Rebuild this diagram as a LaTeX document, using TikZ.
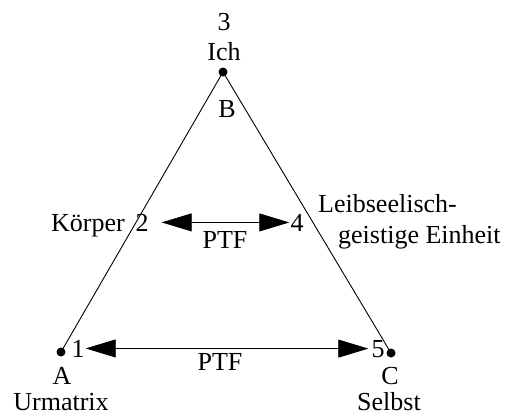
\documentclass[tikz,border=0pt]{standalone}
\usepackage{fontspec}
\setmainfont{Liberation Serif}
\usetikzlibrary{arrows.meta}
\tikzset{
  lbl/.style={inner sep=0pt, font=\fontsize{26}{31}\selectfont},
  vdot/.style={circle, fill=black, inner sep=0pt, minimum size=9pt},
  side/.style={line width=0.9pt},
  ptf/.style={line width=0.7pt, {Triangle[length=30pt,width=18pt]}-{Triangle[length=30pt,width=18pt]}}
}
\begin{document}
\begin{tikzpicture}[x=1pt,y=-1pt]
\useasboundingbox (0,0) rectangle (514,416);
% vertices
\node[vdot] (B) at (223,72) {};
\node[vdot] (A) at (61,352) {};
\node[vdot] (C) at (391,353) {};
\draw[side] (B.center) -- (A.center);
\draw[side] (B.center) -- (C.center);
% labels
\node[lbl, anchor=base] (n3) at (224,30) {3};
\node[lbl, anchor=base] (ich) at (224,60) {Ich};
\node[lbl, anchor=base] (lB) at (227,117) {B};
\node[lbl, anchor=base east] (koerper) at (125,231) {Körper};
\node[lbl, anchor=base] (n2) at (142,231) {2};
\node[lbl, anchor=base] (n4) at (297,231) {4};
\node[lbl, anchor=base west] (leib) at (318,212) {Leibseelisch-};
\node[lbl, anchor=base west] (geist) at (338,243) {geistige Einheit};
\node[lbl, anchor=base] (ptf1) at (225,248) {PTF};
\node[lbl, anchor=base] (n1) at (78,357) {1};
\node[lbl, anchor=base] (n5) at (378,357) {5};
\node[lbl, anchor=base] (lA) at (62,384) {A};
\node[lbl, anchor=base] (urm) at (61,410) {Urmatrix};
\node[lbl, anchor=base] (lC) at (390,384) {C};
\node[lbl, anchor=base] (selbst) at (389,410) {Selbst};
\node[lbl, anchor=base] (ptf2) at (220,370) {PTF};
% arrows
\draw[ptf, shorten <=13pt, shorten >=1pt] (n2) -- (n4);
\draw[ptf, shorten <=1pt, shorten >=3pt] (n1) -- (n5);
\end{tikzpicture}
\end{document}
